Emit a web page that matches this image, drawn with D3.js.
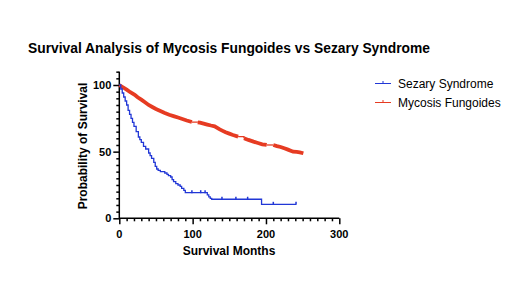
<!DOCTYPE html>
<html>
<head>
<meta charset="utf-8">
<script src="https://cdn.jsdelivr.net/npm/d3@7"></script>
<style>
  body { margin: 0; background: #fff; }
  text { font-family: "Liberation Sans", Arial, sans-serif; }
</style>
</head>
<body>
<svg id="chart"></svg>
<script>
// Kaplan-Meier steps: [months, % surviving]
const sezaryTimes = [0, 2, 4, 6, 8, 10, 12, 14, 16, 18, 20, 23, 26, 28, 30, 33, 36, 40, 42, 44, 47, 49, 51, 53, 56, 58, 62, 65, 67, 70, 72, 74, 77, 80, 83, 85, 88, 90, 120, 122, 124, 126, 194, 241];
const sezarySurv  = [100, 97, 94, 91, 88, 85, 81, 78, 75, 72, 69, 65, 61, 59, 57, 54, 52, 49, 47, 45, 42, 39, 37, 36, 35, 35, 34, 33, 32, 31, 29, 27.5, 26, 25, 24, 22.5, 21, 19.2, 17.5, 16, 15, 14.3, 10.5, 10.5];
const sezaryCensor = [99, 111, 117, 140, 159, 175, 210, 241];

const mfTimes = [0, 5, 10, 15, 21, 25, 30, 35, 40, 45, 50, 56, 62, 68, 75, 80, 85, 92, 99, 107, 110, 115, 120, 125, 130, 137, 141, 145, 150, 155, 162, 170, 176, 183, 189, 195, 201, 210, 215, 220, 225, 230, 237, 242, 246, 251];
const mfSurv  = [100, 98.3, 96.5, 94.6, 92.7, 90.8, 89, 87, 85, 83.5, 82, 80.5, 79, 77.7, 76.5, 75.6, 74.7, 73.4, 72.2, 72, 71.7, 71, 70.3, 69.6, 69, 66.7, 65.6, 64.5, 63.5, 62.5, 61.3, 60, 58.8, 57.5, 56.5, 55.5, 55, 55, 54.2, 53.5, 52.5, 51.5, 50, 49.8, 49.5, 48.8];

const seriesNames = ["Sezary Syndrome", "Mycosis Fungoides"];
const xTicks = [0, 100, 200, 300];
const yTicks = [0, 50, 100];

const width = 520, height = 293;
const blue = "#2137d6", red = "#e63b22";

const svg = d3.select("#chart").attr("width", width).attr("height", height);

const x = d3.scaleLinear().domain([0, 300]).range([119.3, 339.3]);
const y = d3.scaleLinear().domain([0, 100]).range([218.3, 85]);

svg.append("text")
  .attr("x", 28).attr("y", 53)
  .attr("font-size", 14.5).attr("font-weight", "bold")
  .attr("textLength", 402).attr("lengthAdjust", "spacingAndGlyphs")
  .text("Survival Analysis of Mycosis Fungoides vs Sezary Syndrome");

// axes
const xAxis = svg.append("g").attr("transform", `translate(0,${y(0)})`);
xAxis.call(d3.axisBottom(x).tickValues(d3.range(0, 301, 10)).tickSize(3).tickFormat(""));
xAxis.call(g => g.selectAll(".tick").filter(d => xTicks.includes(d)).select("line").attr("y2", 6));
xAxis.append("g").selectAll("text").data(xTicks).join("text")
  .attr("x", d => x(d)).attr("y", 20)
  .attr("text-anchor", "middle").attr("font-size", 11).attr("font-weight", "bold").attr("fill", "#000")
  .text(d => d);

const yAxis = svg.append("g").attr("transform", `translate(${x(0)},0)`);
const y2 = y.copy().domain([0, 110]).range([218.3, y(110)]);
yAxis.call(d3.axisLeft(y2).tickValues(d3.range(0, 111, 5)).tickSize(3).tickFormat(""));
yAxis.call(g => g.selectAll(".tick").filter(d => yTicks.includes(d)).select("line").attr("x2", -6));
yAxis.append("g").selectAll("text").data(yTicks).join("text")
  .attr("x", -8).attr("y", d => y(d)).attr("dy", "0.35em")
  .attr("text-anchor", "end").attr("font-size", 11).attr("font-weight", "bold").attr("fill", "#000")
  .text(d => d);

svg.selectAll(".domain, .tick line").attr("stroke", "#000").attr("stroke-width", 1.5);
// plain axis lines without end caps
xAxis.select(".domain").attr("d", `M${x(0)},0H${x(300)}`);
yAxis.select(".domain").attr("d", `M0,${y(0)}V${y(110)}`);

svg.append("text")
  .attr("transform", `translate(87,146) rotate(-90)`)
  .attr("text-anchor", "middle").attr("font-size", 12).attr("font-weight", "bold")
  .text("Probability of Survival");

svg.append("text")
  .attr("x", 229).attr("y", 255)
  .attr("text-anchor", "middle").attr("font-size", 12).attr("font-weight", "bold")
  .text("Survival Months");

// curves
const step = d3.line().curve(d3.curveStepAfter).x(d => x(d[0])).y(d => y(d[1]));
const smooth = d3.line().x(d => x(d[0])).y(d => y(d[1]));

const mf = mfTimes.map((t, i) => [t, mfSurv[i]]);
// dense steps look like a thick band; long flat stretches are drawn thin
const runs = [[mf[0]]];
for (let i = 1; i < mf.length; i++) {
  if (mf[i][0] - mf[i - 1][0] > 7.5) {
    svg.append("path").datum([mf[i - 1], mf[i]]).attr("d", step)
      .attr("fill", "none").attr("stroke", red).attr("stroke-width", 1.3);
    runs.push([mf[i]]);
  } else {
    runs[runs.length - 1].push(mf[i]);
  }
}
runs.forEach(r => svg.append("path").datum(r).attr("d", smooth)
  .attr("fill", "none").attr("stroke", red).attr("stroke-width", 3.8));

const sz = sezaryTimes.map((t, i) => [t, sezarySurv[i]]);
svg.append("path").datum(sz).attr("d", step)
  .attr("fill", "none").attr("stroke", blue).attr("stroke-width", 1.3);

const survAt = t => { let s = 100; sz.forEach(d => { if (d[0] <= t) s = d[1]; }); return s; };
svg.selectAll(".cens").data(sezaryCensor).join("line")
  .attr("x1", d => x(d)).attr("x2", d => x(d))
  .attr("y1", d => y(survAt(d)) - 2.5).attr("y2", d => y(survAt(d)) + 0.5)
  .attr("stroke", blue).attr("stroke-width", 1.5);

// legend
const legend = svg.append("g").selectAll("g").data(seriesNames).join("g")
  .attr("transform", (d, i) => `translate(375,${83.5 + i * 19})`);
legend.append("line").attr("x1", 0).attr("x2", 16)
  .attr("stroke", (d, i) => i ? red : blue).attr("stroke-width", 1);
legend.append("line").attr("x1", 8).attr("x2", 8).attr("y1", -2.5).attr("y2", 0)
  .attr("stroke", (d, i) => i ? red : blue).attr("stroke-width", 1);
legend.append("text").attr("x", 23).attr("y", 0).attr("dy", "0.35em")
  .attr("font-size", 12).text(d => d);
</script>
</body>
</html>
